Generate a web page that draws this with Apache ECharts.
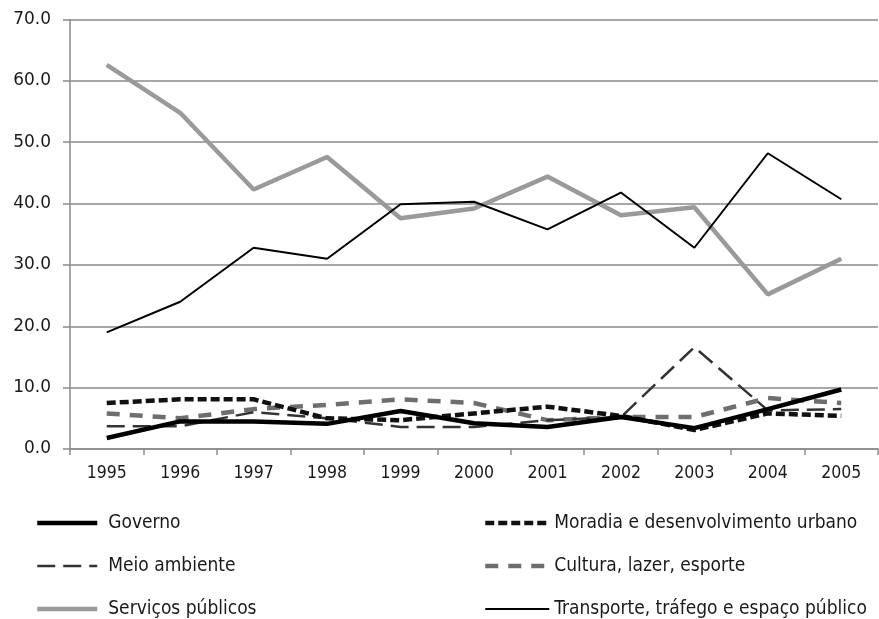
<!DOCTYPE html>
<html>
<head>
<meta charset="utf-8">
<script src="https://cdn.jsdelivr.net/npm/echarts@6/dist/echarts.min.js"></script>
<style>
  html, body { margin: 0; padding: 0; background: #fff; }
  #chart { width: 879px; height: 619px; }
</style>
</head>
<body>
<div id="chart"></div>
<script>
const years = ['1995', '1996', '1997', '1998', '1999', '2000', '2001', '2002', '2003', '2004', '2005'];
const governo = [1.8, 4.5, 4.5, 4.1, 6.2, 4.2, 3.6, 5.2, 3.4, 6.5, 9.7];
const moradia = [7.5, 8.1, 8.1, 5.0, 4.7, 5.8, 6.9, 5.4, 3.1, 5.8, 5.4];
const meioAmbiente = [3.7, 3.7, 6.0, 5.0, 3.6, 3.6, 4.7, 5.2, 16.6, 6.3, 6.5];
const cultura = [5.8, 5.0, 6.5, 7.2, 8.1, 7.5, 4.7, 5.2, 5.2, 8.3, 7.5];
const servicos = [62.6, 54.8, 42.3, 47.6, 37.6, 39.2, 44.4, 38.1, 39.4, 25.2, 31.0];
const transporte = [19.0, 24.0, 32.8, 31.0, 39.9, 40.3, 35.8, 41.8, 32.8, 48.2, 40.7];

const narrow = "'Liberation Sans Narrow', 'DejaVu Sans Condensed', sans-serif";

// line look per series, reused for the legend keys
const styles = {
  'Governo': { color: '#000000', width: 4.5, type: 'solid' },
  'Moradia e desenvolvimento urbano': { color: '#111111', width: 4.5, type: [9, 4] },
  'Meio ambiente': { color: '#333333', width: 2.5, type: [18, 8] },
  'Cultura, lazer, esporte': { color: '#6e6e6e', width: 4.5, type: [13, 10] },
  'Serviços públicos': { color: '#9a9a9a', width: 4.5, type: 'solid' },
  'Transporte, tráfego e espaço público': { color: '#000000', width: 2, type: 'solid' }
};

function legendCol(left, iconW, pad, names) {
  return {
    orient: 'vertical',
    left: left,
    top: 507,
    height: 140,
    itemWidth: iconW,
    itemHeight: 22,
    itemGap: 21,
    data: names.map(n => ({ name: n, lineStyle: styles[n] })),
    itemStyle: { opacity: 0 },
    textStyle: {
      fontFamily: narrow,
      fontSize: 19,
      lineHeight: 22,
      color: '#1a1a1a',
      padding: [0, 0, 0, pad]
    }
  };
}

function lineSeries(name, data) {
  const s = styles[name];
  return {
    name: name,
    type: 'line',
    data: data,
    symbol: 'none',
    animation: false,
    lineStyle: s,
    itemStyle: { color: s.color }
  };
}

const chart = echarts.init(document.getElementById('chart'));
chart.setOption({
  backgroundColor: '#fff',
  grid: { left: 70, right: 1, top: 19.5, bottom: 170 },
  legend: [
    legendCol(30, 60, 6, ['Governo', 'Meio ambiente', 'Serviços públicos']),
    legendCol(478, 64, 0, ['Moradia e desenvolvimento urbano', 'Cultura, lazer, esporte', 'Transporte, tráfego e espaço público'])
  ],
  xAxis: {
    type: 'category',
    data: years,
    boundaryGap: true,
    axisLine: { lineStyle: { color: '#8a8a8a', width: 1.5 } },
    axisTick: { show: true, length: 6, lineStyle: { color: '#8a8a8a', width: 1.5 } },
    axisLabel: { fontFamily: narrow, fontSize: 17.5, color: '#1a1a1a', margin: 15 }
  },
  yAxis: {
    type: 'value',
    min: 0,
    max: 70,
    interval: 10,
    axisLine: { show: true, lineStyle: { color: '#8a8a8a', width: 1.5 } },
    axisTick: { show: true, length: 7, lineStyle: { color: '#8a8a8a', width: 1.5 } },
    splitLine: { lineStyle: { color: '#8a8a8a', width: 1.5 } },
    axisLabel: {
      fontFamily: 'DejaVu Sans',
      fontSize: 17,
      color: '#1a1a1a',
      margin: 19,
      formatter: v => v.toFixed(1)
    }
  },
  series: [
    lineSeries('Serviços públicos', servicos),
    lineSeries('Cultura, lazer, esporte', cultura),
    lineSeries('Meio ambiente', meioAmbiente),
    lineSeries('Moradia e desenvolvimento urbano', moradia),
    lineSeries('Transporte, tráfego e espaço público', transporte),
    lineSeries('Governo', governo)
  ]
});
</script>
</body>
</html>
